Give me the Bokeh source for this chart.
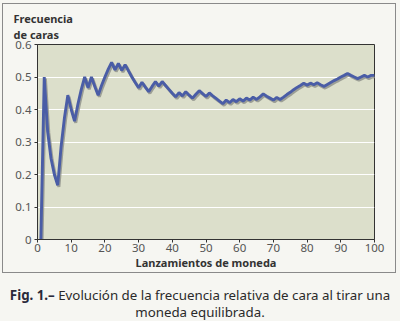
from bokeh.plotting import figure
from bokeh.layouts import column
from bokeh.models import (ColumnDataSource, Div, Title, FixedTicker, Range1d)
from bokeh.transform import dodge
from bokeh.embed import file_html
from bokeh.resources import INLINE

lanzamientos = list(range(1, 101))
frecuencia = [
    0.0, 0.5, 0.333, 0.25, 0.2, 0.167, 0.286, 0.375, 0.444, 0.4,
    0.364, 0.417, 0.462, 0.5, 0.467, 0.5, 0.471, 0.444, 0.474, 0.5,
    0.524, 0.545, 0.522, 0.542, 0.52, 0.538, 0.519, 0.5, 0.483, 0.467,
    0.484, 0.469, 0.455, 0.471, 0.486, 0.472, 0.486, 0.474, 0.462, 0.45,
    0.439, 0.452, 0.442, 0.455, 0.444, 0.435, 0.447, 0.458, 0.449, 0.44,
    0.451, 0.442, 0.434, 0.426, 0.418, 0.429, 0.421, 0.431, 0.424, 0.433,
    0.426, 0.435, 0.429, 0.438, 0.431, 0.439, 0.448, 0.441, 0.435, 0.429,
    0.437, 0.431, 0.438, 0.446, 0.453, 0.461, 0.468, 0.474, 0.481, 0.475,
    0.481, 0.476, 0.482, 0.476, 0.471, 0.477, 0.483, 0.489, 0.494, 0.5,
    0.505, 0.511, 0.505, 0.5, 0.495, 0.5, 0.505, 0.5, 0.505, 0.505,
]
x_ticks = [0, 10, 20, 30, 40, 50, 60, 70, 80, 90, 100]
y_ticks = [0, 0.1, 0.2, 0.3, 0.4, 0.5, 0.6]
y_tick_labels = ["0", "0.1", "0.2", "0.3", "0.4", "0.5", "0.6"]
y_title = "Frecuencia\nde caras"
x_title = "Lanzamientos de moneda"
caption_bold = "Fig. 1.–"
caption_line1 = "Evolución de la frecuencia relativa de cara al tirar una"
caption_line2 = "moneda equilibrada."

FONT = "Noto Sans"
PAGE_BG = "#f6f6f2"

p = figure(width=392, height=268, output_backend="svg", toolbar_location=None,
           x_range=Range1d(0, 100), y_range=Range1d(0, 0.6),
           min_border_left=34, min_border_right=21, min_border_top=40, min_border_bottom=33,
           margin=(4, 5, 0, 3), styles={"outline": "1px solid #8a8a8a"})
p.background_fill_color = "#dcdfcb"
p.border_fill_color = PAGE_BG
p.outline_line_color = "#333333"
p.outline_line_width = 1

t = Title(text=y_title, align="left", offset=-24, text_font=FONT, text_font_style="bold",
          text_font_size="11px", text_color="#333333", standoff=0, text_line_height=1.1,
          vertical_align="top")
p.add_layout(t, "above")

src = ColumnDataSource(dict(x=lanzamientos, y=frecuencia))
p.line(x=dodge("x", 0.35), y=dodge("y", -0.005), source=src, line_color="#8c8f88",
       line_width=3, line_alpha=0.8)
p.line(x="x", y="y", source=src, line_color="#4a5da6", line_width=2.9)

p.xgrid.visible = False
p.ygrid.grid_line_color = "white"
p.ygrid.grid_line_width = 1.2
p.ygrid.ticker = FixedTicker(ticks=y_ticks)

p.xaxis.ticker = FixedTicker(ticks=x_ticks)
p.yaxis.ticker = FixedTicker(ticks=y_ticks)
p.yaxis.major_label_overrides = {t: l for t, l in zip(y_ticks, y_tick_labels)}
for ax in (p.xaxis, p.yaxis):
    ax.axis_line_color = "#333333"
    ax.major_tick_line_color = "#333333"
    ax.major_tick_out = 3
    ax.major_tick_in = 0
    ax.minor_tick_line_color = None
    ax.major_label_text_font = FONT
    ax.major_label_text_font_size = "11.5px"
    ax.major_label_text_color = "#555555"
p.yaxis.major_label_standoff = 3
p.xaxis.major_label_standoff = 1
p.xaxis.axis_label = x_title
p.xaxis.axis_label_text_font = FONT
p.xaxis.axis_label_text_font_style = "bold"
p.xaxis.axis_label_text_font_size = "11px"
p.xaxis.axis_label_text_color = "#333333"
p.xaxis.axis_label_standoff = 0

caption = Div(
    text=(f'<div style="text-align:center; line-height:17px; white-space:nowrap; width:400px;">'
          f'<b style="color:#2a2a3a">{caption_bold}</b> {caption_line1}<br>{caption_line2}</div>'),
    width=400, height=49, margin=(0, 0, 0, 0),
    styles={"font-family": FONT, "font-size": "13.3px", "color": "#2a2a2a",
            "padding-top": "15px", "box-sizing": "border-box", "overflow": "visible"})

layout = column(p, caption, spacing=0, width=400, height=321,
                styles={"background-color": PAGE_BG})

open("out.html", "w").write(file_html(layout, INLINE))
